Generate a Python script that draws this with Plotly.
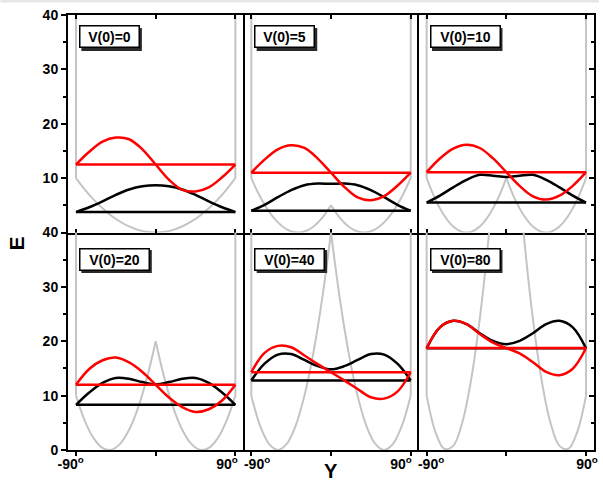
import plotly.graph_objects as go
from plotly.subplots import make_subplots

# ---------------- data ----------------
LABELS = ["V(0)=0", "V(0)=5", "V(0)=10", "V(0)=20", "V(0)=40", "V(0)=80"]

# potential curves (gray), sampled every 10 degrees from -90 to 90
X_POT = [-90, -80, -70, -60, -50, -40, -30, -20, -10, 0,
         10, 20, 30, 40, 50, 60, 70, 80, 90]
POT_0 = [10.0, 7.90, 6.05, 4.44, 3.09, 1.98, 1.11, 0.49, 0.12, 0.0,
         0.12, 0.49, 1.11, 1.98, 3.09, 4.44, 6.05, 7.90, 10.0]
POT_5 = [10.0, 6.57, 3.85, 1.86, 0.58, 0.03, 0.19, 1.07, 2.68, 5.0,
         2.68, 1.07, 0.19, 0.03, 0.58, 1.86, 3.85, 6.57, 10.0]
POT_10 = [10.0, 6.05, 3.09, 1.11, 0.12, 0.12, 1.11, 3.09, 6.05, 10.0,
          6.05, 3.09, 1.11, 0.12, 0.12, 1.11, 3.09, 6.05, 10.0]
POT_20 = [10.0, 5.36, 2.15, 0.38, 0.05, 1.17, 3.72, 7.71, 13.13, 20.0,
          13.13, 7.71, 3.72, 1.17, 0.05, 0.38, 2.15, 5.36, 10.0]
POT_40 = [10.0, 4.44, 1.11, 0.0, 1.11, 4.44, 10.0, 17.78, 27.78, 40.0,
          27.78, 17.78, 10.0, 4.44, 1.11, 0.0, 1.11, 4.44, 10.0]
POT_80 = [10.0, 3.30, 0.22, 0.76, 4.92, 12.7, 24.1, 39.1, 57.8, 80.0,
          57.8, 39.1, 24.1, 12.7, 4.92, 0.76, 0.22, 3.30, 10.0]
WALL_TOP = 100.0

# energy levels (horizontal lines)
E_GROUND = [3.75, 4.0, 5.5, 8.3, 12.8, 18.7]
E_EXCITED = [12.5, 11.0, 11.1, 12.0, 14.3, 18.75]

# wavefunctions drawn on top of their levels, sampled every 15 degrees
X_WAVE = [-90, -75, -60, -45, -30, -15, 0, 15, 30, 45, 60, 75, 90]
PSI0_0 = [3.75, 4.64, 5.73, 6.92, 7.91, 8.50, 8.70, 8.50, 7.91, 6.92, 5.73, 4.64, 3.75]
PSI0_5 = [4.0, 5.1, 6.5, 7.8, 8.7, 9.0, 8.95, 9.0, 8.7, 7.8, 6.5, 5.1, 4.0]
PSI0_10 = [5.5, 6.78, 8.3, 9.68, 10.6, 10.45, 10.2, 10.45, 10.6, 9.68, 8.3, 6.78, 5.5]
PSI0_20 = [8.3, 10.57, 12.34, 13.25, 13.1, 12.49, 12.09, 12.49, 13.1, 13.25, 12.34, 10.57, 8.3]
PSI0_40 = [12.8, 15.87, 17.55, 17.65, 16.56, 15.42, 14.83, 15.42, 16.56, 17.65, 17.55, 15.87, 12.8]
PSI0_80 = [18.7, 22.54, 23.75, 23.14, 21.48, 20.06, 19.46, 20.06, 21.48, 23.14, 23.75, 22.54, 18.7]

PSI1_0 = [12.5, 14.85, 16.7, 17.45, 17.15, 15.3, 12.5, 9.7, 7.85, 7.55, 8.3, 10.15, 12.5]
PSI1_5 = [11.0, 13.4, 15.3, 16.05, 15.55, 13.6, 11.0, 8.4, 6.45, 5.95, 6.7, 8.6, 11.0]
PSI1_10 = [11.1, 13.62, 15.44, 16.15, 15.54, 13.62, 11.1, 8.58, 6.66, 6.05, 6.76, 8.58, 11.1]
PSI1_20 = [12.0, 14.9, 16.5, 17.0, 16.1, 14.35, 12.0, 9.65, 7.9, 7.0, 7.5, 9.1, 12.0]
PSI1_40 = [14.3, 17.86, 19.15, 18.9, 17.37, 15.79, 14.3, 12.81, 11.23, 9.7, 9.45, 10.74, 14.3]
PSI1_80 = [18.75, 22.55, 23.75, 23.15, 21.35, 19.75, 18.75, 17.75, 16.15, 14.35, 13.75, 14.95, 18.75]

POTS = [POT_0, POT_5, POT_10, POT_20, POT_40, POT_80]
PSI0 = [PSI0_0, PSI0_5, PSI0_10, PSI0_20, PSI0_40, PSI0_80]
PSI1 = [PSI1_0, PSI1_5, PSI1_10, PSI1_20, PSI1_40, PSI1_80]

Y_TICKS_TOP = [10, 20, 30, 40]
Y_TICKS_BOTTOM = [0, 10, 20, 30, 40]
Y_MINOR = [5, 15, 25, 35]
X_TICKS = [-90, 0, 90]
X_LABEL_VALUES = [-90, 90]
X_TICKTEXT = ["-90<sup>o</sup>", "90<sup>o</sup>"]

# label nudges (degrees) per column, as in the original, to keep labels apart
X_LABEL_NUDGE = [(-6.0, -9.5), (6.5, -11.0), (5.0, 1.0)]

# ---------------- figure ----------------
FONT = "Liberation Sans, Arial, sans-serif"
GRAY = "#c4c4c4"
W, H = 603, 482
ML, MR, MT, MB = 68, 5, 15, 32
PW, PH = W - ML - MR, H - MT - MB
CW, RH = PW / 3, PH / 2

fig = make_subplots(rows=2, cols=3, horizontal_spacing=0, vertical_spacing=0)

for i in range(6):
    r, c = i // 3 + 1, i % 3 + 1
    pot = POTS[i]
    mid = X_POT.index(0)
    fig.add_trace(go.Scatter(x=[X_POT[0], X_POT[0], None, X_POT[-1], X_POT[-1]],
                             y=[pot[0], WALL_TOP, None, pot[-1], WALL_TOP],
                             mode="lines", line=dict(color=GRAY, width=2),
                             hoverinfo="skip"), row=r, col=c)
    for xs, ys in ((X_POT[:mid + 1], pot[:mid + 1]), (X_POT[mid:], pot[mid:])):
        fig.add_trace(go.Scatter(x=xs, y=ys, mode="lines",
                                 line=dict(color=GRAY, width=2, shape="spline"),
                                 hoverinfo="skip"), row=r, col=c)
    fig.add_trace(go.Scatter(x=[X_WAVE[0], X_WAVE[-1]], y=[E_GROUND[i], E_GROUND[i]],
                             mode="lines", line=dict(color="black", width=2.5)),
                  row=r, col=c)
    fig.add_trace(go.Scatter(x=X_WAVE, y=PSI0[i], mode="lines",
                             line=dict(color="black", width=2.5, shape="spline")),
                  row=r, col=c)
    fig.add_trace(go.Scatter(x=[X_WAVE[0], X_WAVE[-1]], y=[E_EXCITED[i], E_EXCITED[i]],
                             mode="lines", line=dict(color="#ff0000", width=2.5)),
                  row=r, col=c)
    fig.add_trace(go.Scatter(x=X_WAVE, y=PSI1[i], mode="lines",
                             line=dict(color="#ff0000", width=2.5, shape="spline")),
                  row=r, col=c)

tickfont = dict(family=FONT, size=14, color="black", weight="bold")

for i in range(6):
    r, c = i // 3 + 1, i % 3 + 1
    xa = dict(range=[-99, 99], showgrid=False, zeroline=False, showline=True,
              linecolor="black", linewidth=2, tickmode="array",
              tickcolor="black", tickwidth=1.5, tickfont=tickfont)
    if r == 2:
        nudge = X_LABEL_NUDGE[c - 1]
        xa.update(tickvals=[X_LABEL_VALUES[k] + nudge[k] for k in range(2)],
                  ticktext=X_TICKTEXT, ticks="outside", ticklen=0, mirror=False,
                  showticklabels=True,
                  minor=dict(tickvals=X_TICKS, ticks="outside", ticklen=4,
                             tickcolor="black", tickwidth=1.5))
    else:
        xa.update(tickvals=X_TICKS, ticks="inside", ticklen=4, mirror="allticks",
                  showticklabels=False)
    fig.update_xaxes(row=r, col=c, **xa)

    ya = dict(range=[0, 40], showgrid=False, zeroline=False,
              linecolor="black", linewidth=2, tickmode="array",
              tickcolor="black", tickwidth=1.5, ticklen=5, tickfont=tickfont)
    if c == 1:
        vals = Y_TICKS_TOP if r == 1 else Y_TICKS_BOTTOM
        ya.update(showline=True, mirror=True, tickvals=vals,
                  ticktext=[str(v) for v in vals], ticks="outside",
                  showticklabels=True,
                  minor=dict(tickvals=Y_MINOR, ticks="outside", ticklen=3,
                             tickcolor="black", tickwidth=1.5))
    elif c == 3:
        ya.update(showline=True, mirror=True, side="right", ticks="inside",
                  tickvals=Y_TICKS_BOTTOM, showticklabels=False,
                  minor=dict(tickvals=Y_MINOR, ticks="inside", ticklen=3,
                             tickcolor="black", tickwidth=1.5))
    else:
        ya.update(showline=False, ticks="", showticklabels=False)
    fig.update_yaxes(row=r, col=c, **ya)

# panel labels: white bordered boxes with a dark drop shadow
annotations = []
shapes = []
BOX_X = 0.062
BOX_H = 20
BW = 1.5
for i, lab in enumerate(LABELS):
    r = i // 3 + 1
    n = i + 1
    xr = "x domain" if n == 1 else f"x{n} domain"
    yr = "y domain" if n == 1 else f"y{n} domain"
    ytop = 0.952 if r == 1 else 0.931
    bw = 10 * len(lab) - 2
    outer_w = bw + 2 * BW
    outer_h = BOX_H + 2 * BW
    shapes.append(dict(type="rect", xref=xr, yref=yr,
                       x0=BOX_X + 2.5 / CW, x1=BOX_X + (outer_w + 2.5) / CW,
                       y0=ytop - (outer_h + 2.5) / RH, y1=ytop - 2.5 / RH,
                       fillcolor="#2a2a2a", line=dict(width=0), layer="above"))
    annotations.append(dict(text=lab, xref=xr, yref=yr, x=BOX_X, y=ytop,
                            xanchor="left", yanchor="top", showarrow=False,
                            width=bw, height=BOX_H, borderpad=0, borderwidth=BW,
                            align="center", valign="middle", bgcolor="white",
                            bordercolor="black",
                            font=dict(family=FONT, size=14, color="black", weight="bold")))

annotations.append(dict(text="E", xref="paper", yref="paper", x=(17 - ML) / PW,
                        y=(H - MB - 243) / PH, textangle=-90, showarrow=False,
                        xanchor="center", yanchor="middle",
                        font=dict(family=FONT, size=21, color="black", weight="bold")))
annotations.append(dict(text="Y", xref="paper", yref="paper", x=(333 - ML) / PW,
                        y=(H - MB - 471) / PH, showarrow=False,
                        xanchor="center", yanchor="middle",
                        font=dict(family=FONT, size=20, color="black", weight="bold")))

shapes.append(dict(type="rect", xref="paper", yref="paper", x0=-ML / PW, x1=1 + MR / PW,
                   y0=1 + (MT - 2.5) / PH, y1=1 + MT / PH, fillcolor="#e6e6e6",
                   line=dict(width=0), layer="below"))

fig.update_layout(
    width=W, height=H, margin=dict(l=ML, r=MR, t=MT, b=MB),
    paper_bgcolor="white", plot_bgcolor="white", showlegend=False,
    annotations=annotations, shapes=shapes,
)

fig.write_html("out.html")
